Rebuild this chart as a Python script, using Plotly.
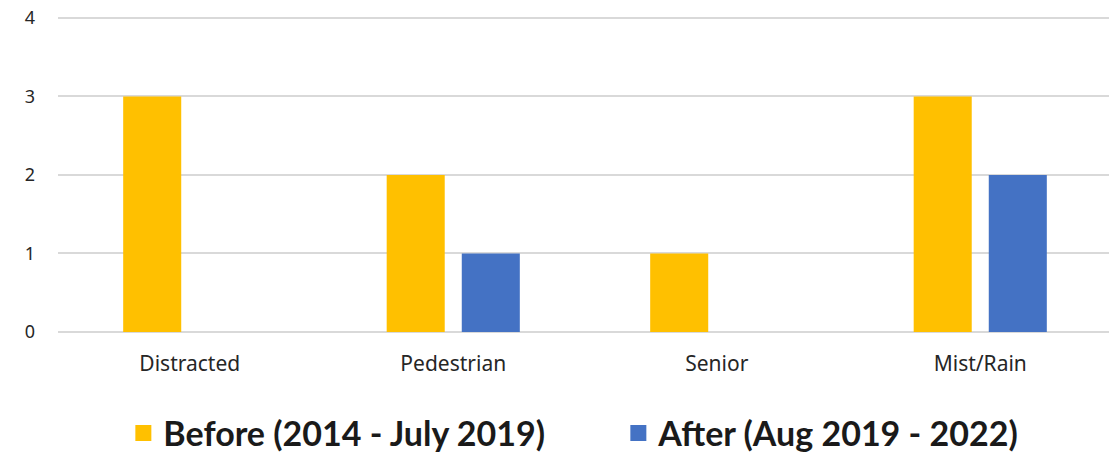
import plotly.graph_objects as go

categories = ["Distracted", "Pedestrian", "Senior", "Mist/Rain"]
before_vals = [3, 2, 1, 3]
after_vals = [0, 1, 0, 2]
series_names = ["Before (2014 - July 2019)", "After (Aug 2019 - 2022)"]
series_colors = ["#FFC000", "#4472C4"]
tick_vals = [0, 1, 2, 3, 4]

fig = go.Figure()
for vals, name, color in zip([before_vals, after_vals], series_names, series_colors):
    fig.add_trace(go.Bar(x=categories, y=vals, name=name, showlegend=False,
                         marker=dict(color=color, line=dict(width=0))))
    # legend entry with larger square swatch
    fig.add_trace(go.Scatter(x=[None], y=[None], mode="markers", name=name,
                             marker=dict(symbol="square", size=16, color=color,
                                         line=dict(width=0))))

# page body has an 8px default margin, so the figure is 8px smaller
fig.update_layout(
    width=1109, height=447,
    margin=dict(l=50, r=5, t=2, b=123, autoexpand=False),
    paper_bgcolor="white", plot_bgcolor="white",
    barmode="group", bargap=0.43, bargroupgap=0.227,
    font=dict(family="Noto Sans, sans-serif", color="#262626"),
    legend=dict(orientation="h", x=0.062, xanchor="left", y=-0.225, yanchor="top",
                font=dict(family="Lato, sans-serif", size=34, color="#1a1a1a", weight="bold"),
                itemwidth=30, itemsizing="trace", tracegroupgap=0,
                entrywidth=450),
    xaxis=dict(showgrid=False, showline=False, tickfont=dict(size=21),
               ticks="", ticklabelstandoff=17, automargin=False),
    yaxis=dict(range=[0, 4.1], tickvals=tick_vals, showgrid=True, gridcolor="#d9d9d9",
               gridwidth=2, zeroline=True, zerolinecolor="#d9d9d9", zerolinewidth=2,
               tickfont=dict(size=18), ticklabelstandoff=22, automargin=False,
               ticklabeloverflow="allow"),
)

fig.write_html("out.html")
